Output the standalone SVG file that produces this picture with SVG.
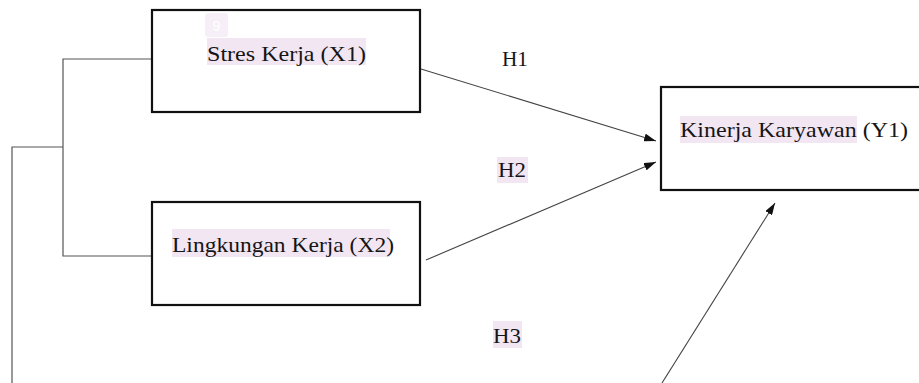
<svg xmlns="http://www.w3.org/2000/svg" width="919" height="383" viewBox="0 0 919 383">
<style>
.box{fill:#fff;stroke:#111;stroke-width:2.2}
.lbl{font-family:"Liberation Serif",serif;font-size:22px;fill:#151515}
.hl{fill:#f3e6f3}
.tree{fill:none;stroke:#555;stroke-width:1.2}
.arr{fill:none;stroke:#444;stroke-width:1.1;marker-end:url(#ah)}
</style>
<defs>
<marker id="ah" viewBox="0 0 12 8" refX="12" refY="4" markerWidth="12" markerHeight="8" markerUnits="userSpaceOnUse" orient="auto">
<path d="M0,0 L12,4 L0,8 Z" fill="#111"/>
</marker>
</defs>
<rect width="919" height="383" fill="#fff"/>
<g id="connectors">
<polyline class="tree" points="152,59 63,59 63,256 152,256"/>
<polyline class="tree" points="63,147 12,147 12,383"/>
<line class="arr" x1="421" y1="69" x2="656" y2="141"/>
<line class="arr" x1="426" y1="260" x2="656" y2="162"/>
<line class="arr" x1="662" y1="383" x2="775" y2="203"/>
</g>
<g id="node-x1">
<rect class="box" x="152" y="10" width="268" height="102"/>
<rect x="205" y="13" width="23" height="24" rx="3" fill="#f7eff7"/>
<text x="216.5" y="31" font-family="Liberation Sans,sans-serif" font-size="14" fill="#fff" text-anchor="middle">9</text>
<rect class="hl" x="207" y="38" width="159" height="27"/>
<text class="lbl" x="207" y="61" textLength="159" lengthAdjust="spacingAndGlyphs">Stres Kerja (X1)</text>
</g>
<g id="node-x2">
<rect class="box" x="152" y="202" width="268" height="103"/>
<rect class="hl" x="172" y="229" width="218" height="28"/>
<text class="lbl" x="172" y="252" textLength="222" lengthAdjust="spacingAndGlyphs">Lingkungan Kerja (X2)</text>
</g>
<g id="node-y1">
<rect class="box" x="661" y="87" width="300" height="103"/>
<rect class="hl" x="680" y="116" width="177" height="27"/>
<text class="lbl" x="680" y="137" textLength="228" lengthAdjust="spacingAndGlyphs">Kinerja Karyawan (Y1)</text>
</g>
<g id="labels">
<text class="lbl" x="502" y="66" textLength="26" lengthAdjust="spacingAndGlyphs">H1</text>
<rect class="hl" x="497" y="157" width="31" height="26"/>
<text class="lbl" x="498" y="177" textLength="28" lengthAdjust="spacingAndGlyphs">H2</text>
<rect class="hl" x="493" y="321" width="29" height="27"/>
<text class="lbl" x="493" y="343" textLength="28" lengthAdjust="spacingAndGlyphs">H3</text>
</g>
</svg>
